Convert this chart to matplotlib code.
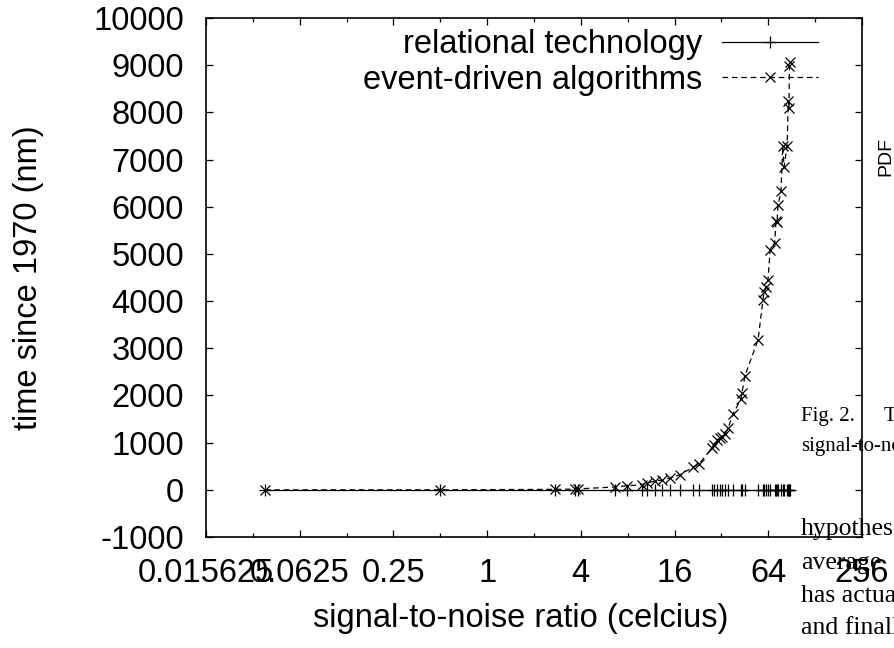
import matplotlib
matplotlib.use('Agg')
import matplotlib.pyplot as plt
from matplotlib.ticker import FixedLocator, FixedFormatter, NullFormatter

# ---- data ----
x_vals = [0.0374, 0.5, 2.73, 3.67, 3.83, 6.63, 7.92, 9.88, 10.64, 11.98,
          13.29, 14.95, 17.34, 21.0, 22.96, 27.84, 28.66, 29.98, 31.34, 32.28,
          33.74, 35.27, 37.97, 42.75, 43.38, 45.35, 55.0, 59.2, 60.1, 61.9,
          63.7, 65.8, 70.4, 71.7, 72.8, 73.9, 77.2, 79.3, 80.7, 84.5,
          86.0, 86.9, 87.5, 88.2]
relational = [0, 0, 0, 0, 0, 0, 0, 0, 0, 0,
              0, 0, 0, 0, 0, 0, 0, 0, 0, 0,
              0, 0, 0, 0, 0, 0, 0, 0, 0, 0,
              0, 0, 0, 0, 0, 0, 0, 0, 0, 0,
              0, 0, 0, 0]
event_driven = [0, 0, 10, 15, 20, 60, 85, 110, 150, 180,
                210, 250, 320, 480, 550, 880, 960, 1050, 1100, 1130,
                1190, 1300, 1610, 1920, 2060, 2420, 3180, 4030, 4200, 4300,
                4450, 5080, 5240, 5690, 5670, 6030, 6330, 7280, 6840, 7280,
                8240, 8090, 8980, 9070]
series_labels = ["relational technology", "event-driven algorithms"]

x_tick_values = [0.015625, 0.0625, 0.25, 1, 4, 16, 64, 256]
x_tick_labels = ["0.015625", "0.0625", "0.25", "1", "4", "16", "64", "256"]
x_minor_values = [0.03125, 0.125, 0.5, 2, 8, 32, 128]
y_tick_values = [-1000, 0, 1000, 2000, 3000, 4000, 5000, 6000, 7000, 8000, 9000, 10000]
y_tick_labels = [str(v) for v in y_tick_values]

x_label = "signal-to-noise ratio (celcius)"
y_label = "time since 1970 (nm)"

# ---- figure ----
plt.rcParams['font.family'] = ['Liberation Sans', 'DejaVu Sans']
plt.rcParams['font.size'] = 23.5

W, H = 895, 648
fig = plt.figure(figsize=(W / 100, H / 100), dpi=100)
L, R, T, B = 206, 862, 18, 537
ax = fig.add_axes([L / W, 1 - B / H, (R - L) / W, (B - T) / H])

ax.set_xscale('log', base=2)
ax.set_xlim(2 ** -6, 2 ** 8)
ax.set_ylim(-1000, 10000)

ax.plot(x_vals, relational, color='black', lw=0.9, marker='+', ms=9,
        mew=0.9, label=series_labels[0])
ax.plot(x_vals, event_driven, color='black', lw=0.9, ls=(0, (4.5, 3)),
        marker='x', ms=7.5, mew=0.9, label=series_labels[1])

ax.xaxis.set_major_locator(FixedLocator(x_tick_values))
ax.xaxis.set_major_formatter(FixedFormatter(x_tick_labels))
ax.xaxis.set_minor_locator(FixedLocator(x_minor_values))
ax.xaxis.set_minor_formatter(NullFormatter())
ax.yaxis.set_major_locator(FixedLocator(y_tick_values))
ax.yaxis.set_major_formatter(FixedFormatter(y_tick_labels))
ax.yaxis.set_minor_locator(FixedLocator([]))

ax.tick_params(which='major', direction='in', length=5, width=0.9,
               top=True, right=True, labelsize=23.5)
ax.tick_params(axis='x', which='major', pad=15)
ax.tick_params(axis='y', which='major', pad=16)
ax.tick_params(which='minor', direction='in', length=2.6, width=0.9,
               top=True, right=True)
for sp in ax.spines.values():
    sp.set_linewidth(1.2)

ax.set_xlabel(x_label, fontsize=23.5)
ax.set_ylabel(y_label, fontsize=23.5)
ax.xaxis.set_label_coords(0.48, -0.127)
ax.yaxis.set_label_coords(-0.247, 0.5)

leg = ax.legend(loc='upper right', bbox_to_anchor=(818 / W, 1 - 29 / H),
                bbox_transform=fig.transFigure, frameon=False,
                markerfirst=False, handlelength=2.95, handletextpad=0.6,
                labelspacing=0.14, borderpad=0, borderaxespad=0,
                fontsize=23.5)

# ---- overlapping text from the surrounding page ----
serif = ['Liberation Serif', 'DejaVu Serif']
caption = [
    (801, 421, "Fig. 2."),
    (884, 421, "The"),
    (801, 451, "signal-to-noise"),
]
body = [
    (801, 535, "hypotheses"),
    (801, 569, "average"),
    (801, 602, "has actually"),
    (801, 634, "and finally"),
]
for px, py, s in caption:
    fig.text(px / W, 1 - py / H, s, family=serif, fontsize=15,
             ha='left', va='baseline')
for px, py, s in body:
    fig.text(px / W, 1 - py / H, s, family=serif, fontsize=18.5,
             ha='left', va='baseline')
fig.text(886 / W, 1 - 157 / H, "PDF", rotation=90, ha='center',
         va='center', fontsize=14)

fig.savefig('out.png', dpi=100)
